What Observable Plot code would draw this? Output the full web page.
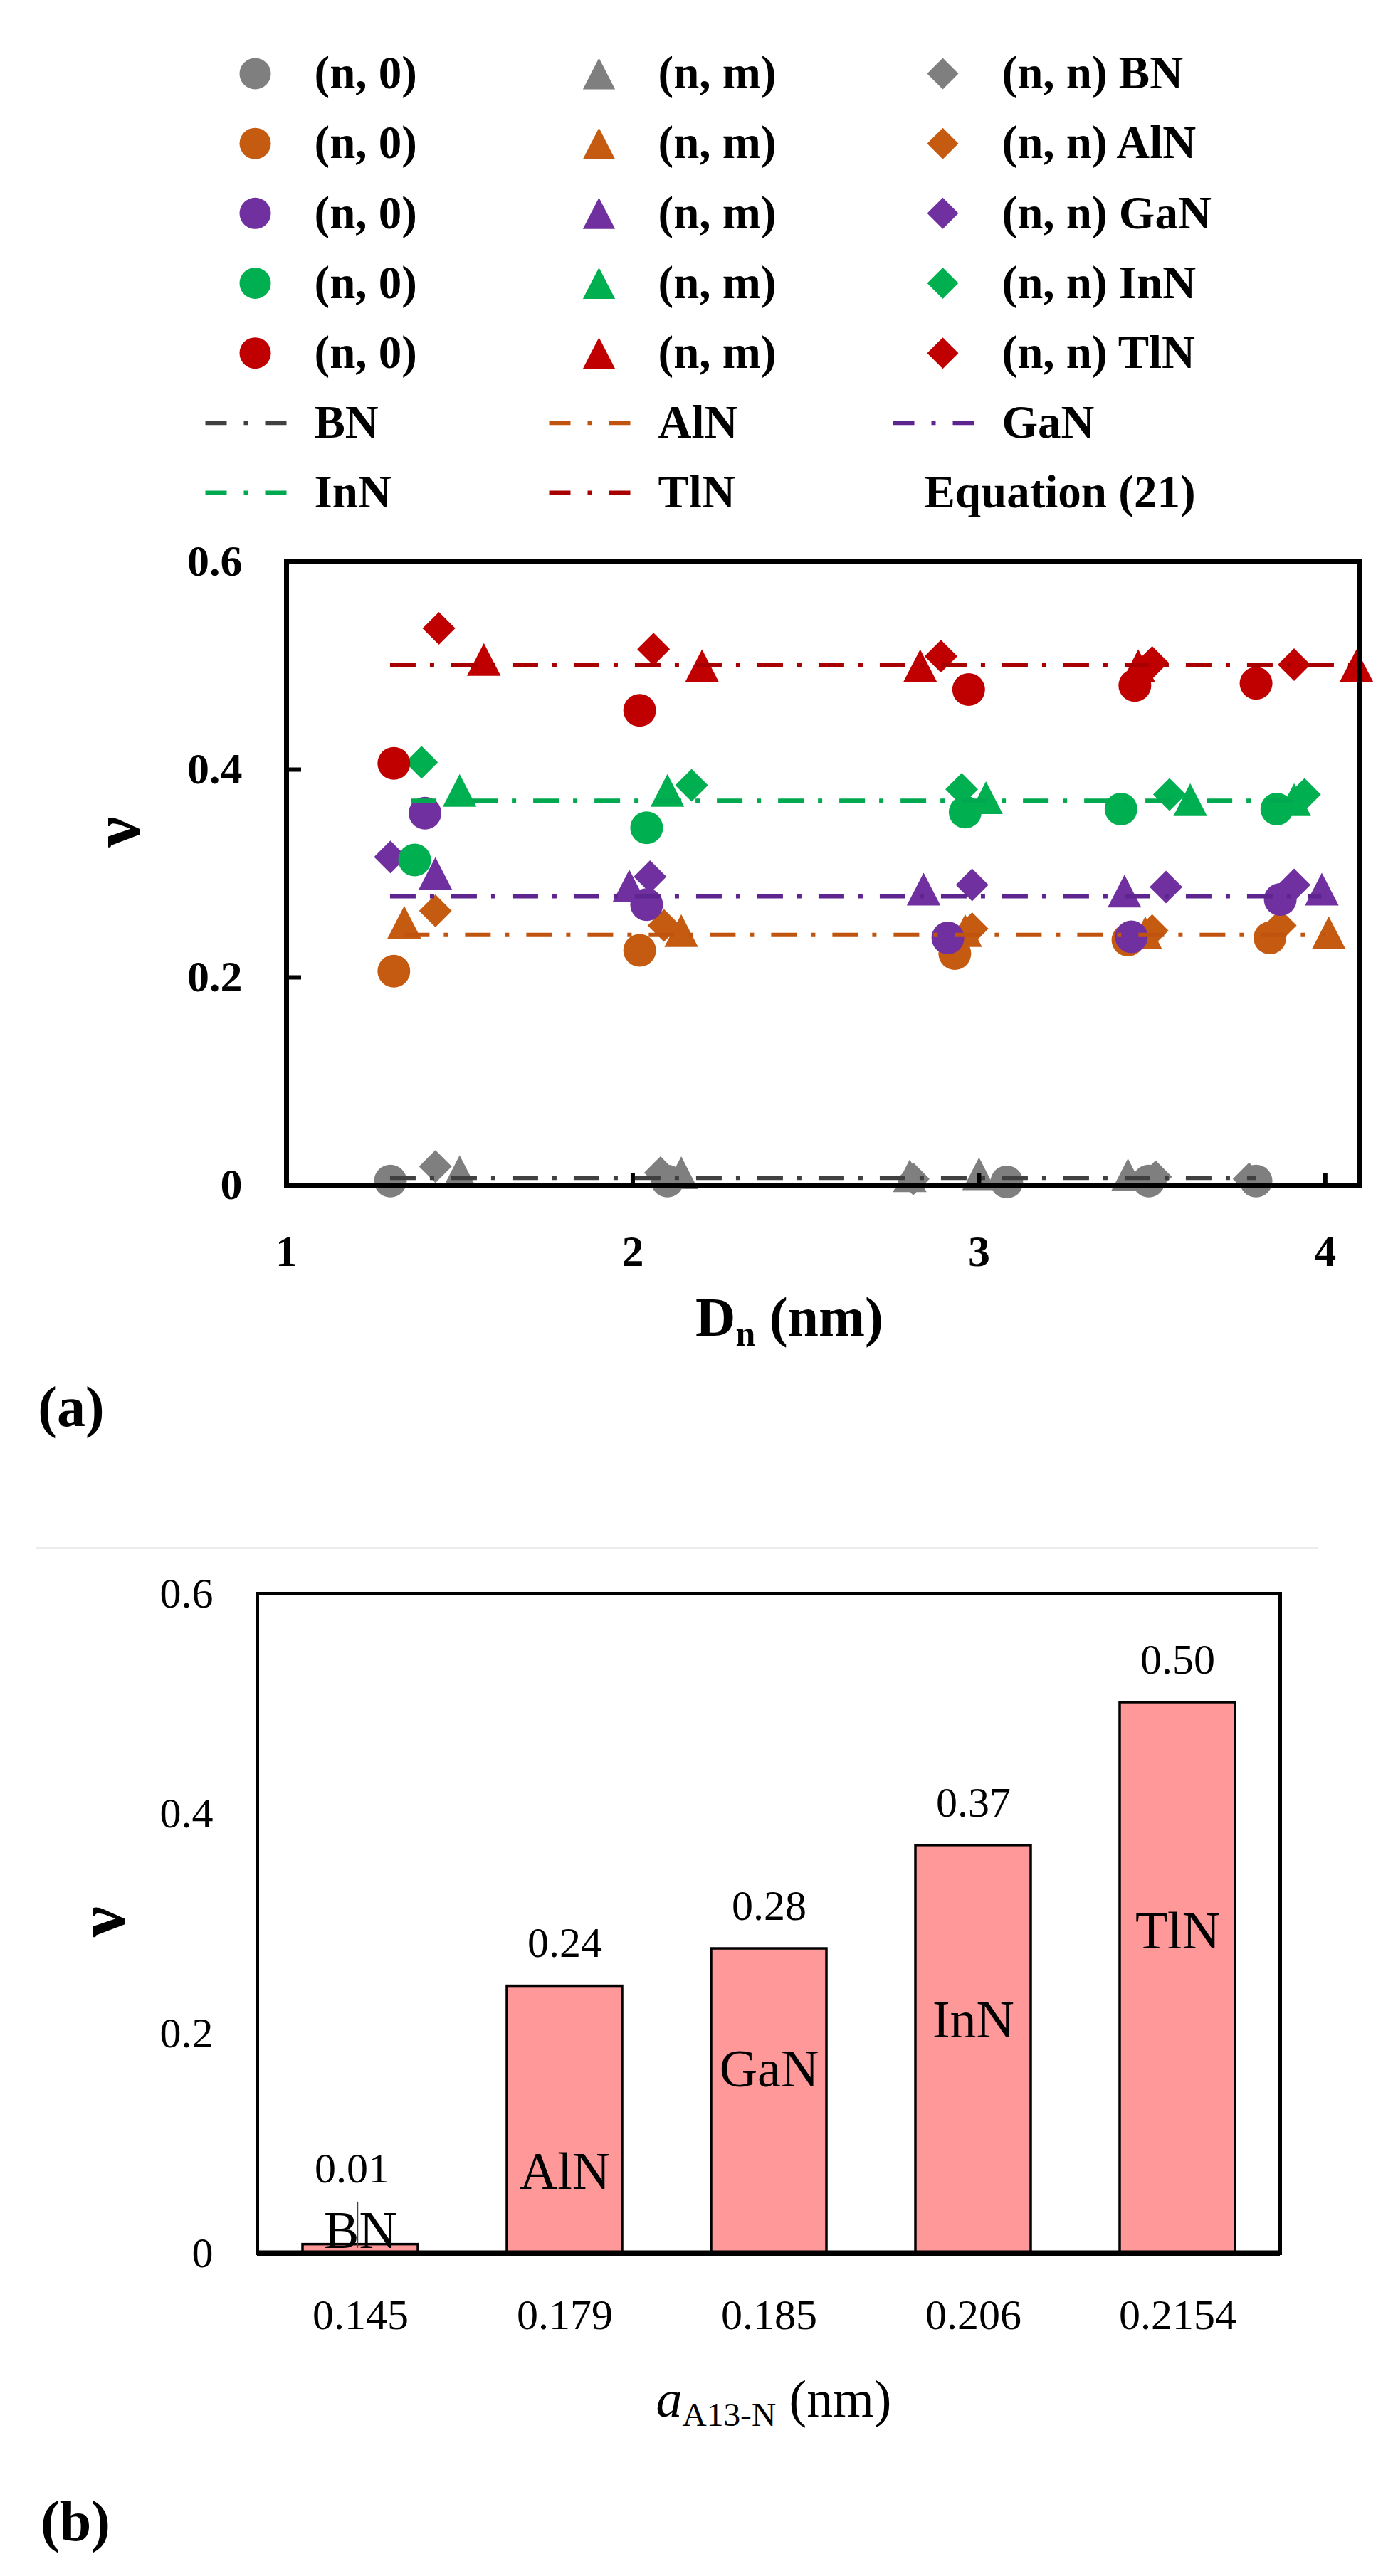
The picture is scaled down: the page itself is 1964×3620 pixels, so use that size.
<!DOCTYPE html>
<html>
<head>
<meta charset="utf-8">
<script src="https://cdn.jsdelivr.net/npm/d3@7"></script>
<script src="https://cdn.jsdelivr.net/npm/@observablehq/plot@0.6"></script>
<style>
  html, body { margin: 0; padding: 0; background: #fff; }
  #page { position: relative; width: 1964px; height: 3620px; overflow: hidden; font-family: "Liberation Serif", serif; color: #000; }
  .panel { position: absolute; left: 0; }
  .lbl { position: absolute; transform: translate(-50%, -50%); white-space: nowrap; line-height: 1; }
  .lbl sub { font-size: 0.64em; vertical-align: -0.28em; line-height: 0; }
  .sep { position: absolute; left: 50px; top: 2174px; width: 1802px; height: 3px; background: #ececec; }
</style>
</head>
<body>
<div id="page">
  <div class="panel" id="legend" style="top:0px"></div>
  <div class="panel" id="chartA" style="top:750px"></div>
  <div class="lbl" style="left:1109px; top:1851px; font-weight:bold; font-size:78px">D<sub>n</sub> (nm)</div>
  <div class="lbl" style="left:100px; top:1977px; font-weight:bold; font-size:80px">(a)</div>
  <div class="sep"></div>
  <div class="panel" id="chartB" style="top:2200px"></div>
  <div class="lbl" style="left:1087px; top:3371px; font-size:74px"><i>a</i><sub>A13-N</sub> (nm)</div>
  <div class="lbl" style="left:106px; top:3543px; font-weight:bold; font-size:80px">(b)</div>
</div>
<script>
// ---------- panel (a): Poisson ratio vs tube diameter ----------
const materials = ["BN", "AlN", "GaN", "InN", "TlN"];
const markerColors = ["#7f7f7f", "#c55a11", "#7030a0", "#00b050", "#c00000"];
const lineColors = ["#404040", "#c0540f", "#5e2591", "#00a84f", "#a80000"];

// (n, 0) tubes, one row per material
const zigzagD = [
  [1.30, 2.10, 3.08, 3.49, 3.80],
  [1.31, 2.02, 2.93, 3.43, 3.84],
  [1.40, 2.04, 2.91, 3.44, 3.87],
  [1.37, 2.04, 2.96, 3.41, 3.86],
  [1.31, 2.02, 2.97, 3.45, 3.80]
];
const zigzagNu = [
  [0.004, 0.004, 0.003, 0.004, 0.004],
  [0.206, 0.226, 0.223, 0.236, 0.238],
  [0.358, 0.270, 0.238, 0.239, 0.275],
  [0.313, 0.344, 0.359, 0.362, 0.362],
  [0.406, 0.457, 0.477, 0.481, 0.483]
];
// (n, m) tubes
const chiralD = [
  [1.50, 2.14, 2.80, 3.00, 3.43],
  [1.34, 2.14, 2.96, 3.48, 4.01],
  [1.43, 1.99, 2.84, 3.42, 3.99],
  [1.50, 2.10, 3.02, 3.61, 3.91],
  [1.57, 2.20, 2.83, 3.46, 4.09]
];
const chiralNu = [
  [0.013, 0.012, 0.009, 0.011, 0.010],
  [0.253, 0.245, 0.245, 0.243, 0.243],
  [0.300, 0.288, 0.285, 0.283, 0.285],
  [0.380, 0.380, 0.373, 0.371, 0.371],
  [0.506, 0.500, 0.500, 0.500, 0.500]
];
// (n, n) tubes
const armchairD = [
  [1.43, 2.08, 2.81, 3.51, 3.78],
  [1.43, 2.09, 2.98, 3.50, 3.87],
  [1.30, 2.05, 2.98, 3.54, 3.91],
  [1.39, 2.17, 2.95, 3.55, 3.94],
  [1.44, 2.06, 2.89, 3.50, 3.91]
];
const armchairNu = [
  [0.018, 0.012, 0.006, 0.008, 0.006],
  [0.264, 0.250, 0.247, 0.245, 0.250],
  [0.316, 0.297, 0.289, 0.287, 0.289],
  [0.407, 0.385, 0.381, 0.376, 0.376],
  [0.536, 0.516, 0.509, 0.503, 0.501]
];
// Equation (21) levels and the D range each line covers
const nuEq21 = [0.007, 0.241, 0.278, 0.370, 0.501];
const eqStart = [1.30, 1.34, 1.30, 1.36, 1.30];
const eqEnd = [3.80, 4.00, 3.99, 3.94, 4.08];

const xTicksA = [1, 2, 3, 4];
const yTicks = [0, 0.2, 0.4, 0.6];

// ---------- panel (b): Poisson ratio vs bond length ----------
const bondLength = ["0.145", "0.179", "0.185", "0.206", "0.2154"];
const nuBar = [0.008, 0.243, 0.277, 0.371, 0.501];
const nameLabelNu = [0.020, 0.074, 0.167, 0.212, 0.293];
const leaderNu = [0.047, 0.005];

const serif = "'Liberation Serif', 'DejaVu Serif', serif";
const plainNum = d => `${d}`;

// marker shapes (size -> radius of equal-area circle, used as half extent)
const triangle = {
  draw(ctx, size) {
    const r = Math.sqrt(size / Math.PI);
    ctx.moveTo(0, -r); ctx.lineTo(r * 1.03, r); ctx.lineTo(-r * 1.03, r); ctx.closePath();
  }
};
const diamond = {
  draw(ctx, size) {
    const r = Math.sqrt(size / Math.PI);
    ctx.moveTo(0, -r); ctx.lineTo(r, 0); ctx.lineTo(0, r); ctx.lineTo(-r, 0); ctx.closePath();
  }
};
const dashDot = {
  draw(ctx) {
    ctx.rect(-57, -3, 30, 6); ctx.rect(-3, -3, 6, 6); ctx.rect(27, -3, 30, 6);
  }
};

const shapes = [
  {name: "(n, 0)", symbol: "circle", D: zigzagD, nu: zigzagNu},
  {name: "(n, m)", symbol: triangle, D: chiralD, nu: chiralNu},
  {name: "(n, n)", symbol: diamond, D: armchairD, nu: armchairNu}
];

// ---- legend ----
let legendRows = [];
materials.forEach((m, i) => {
  shapes.forEach((s, k) => legendRows.push({
    row: i, col: k, shape: k, color: markerColors[i],
    label: k === 2 ? `${s.name} ${m}` : s.name
  }));
});
let lineLegend = materials.map((m, i) => ({row: 5 + Math.floor(i / 3), col: i % 3, color: lineColors[i], label: m}));

let legend = Plot.plot({
  width: 1964, height: 740,
  margin: 0,
  x: {domain: [0, 2], range: [358, 1324], axis: null},
  y: {domain: [0, 6], range: [103, 692], axis: null},
  color: {type: "identity"},
  style: {fontFamily: serif, fontSize: "65px", fontWeight: "bold", background: "transparent"},
  marks: [
    ...shapes.map((s, k) => Plot.dot(legendRows.filter(d => d.shape === k),
      {x: "col", y: "row", r: 22, symbol: s.symbol, fill: "color", stroke: "none"})),
    Plot.text(legendRows, {x: "col", y: "row", text: "label", dx: 83, textAnchor: "start"}),
    Plot.dot(lineLegend, {x: "col", y: "row", symbol: dashDot, fill: "color", stroke: "none", dx: -13}),
    Plot.text(lineLegend, {x: "col", y: "row", text: "label", dx: 83, textAnchor: "start"}),
    Plot.text(["Equation (21)"], {x: 2, y: 6, text: d => d, dx: -26, textAnchor: "start"})
  ]
});
d3.select("#legend").append(() => legend);

// ---- chart (a) ----
let pointMarks = [];
materials.forEach((m, i) => {
  shapes.forEach(s => {
    const rows = s.D[i].map((d, j) => ({D: d, nu: s.nu[i][j]}));
    pointMarks.push(Plot.dot(rows, {x: "D", y: "nu", r: 23, symbol: s.symbol, fill: markerColors[i], stroke: "none"}));
  });
});
let eqRows = materials.map((m, i) => ({m, nu: nuEq21[i], x1: eqStart[i], x2: eqEnd[i], color: lineColors[i]}));

let chartA = Plot.plot({
  width: 1964, height: 1130,
  marginLeft: 402, marginRight: 54, marginTop: 39, marginBottom: 215,
  x: {domain: [1, 4.1], label: null},
  y: {domain: [0, 0.6], label: null},
  color: {type: "identity"},
  style: {fontFamily: serif, fontSize: "62px", fontWeight: "bold", background: "transparent"},
  marks: [
    ...pointMarks,
    Plot.ruleY(eqRows, {y: "nu", x1: "x1", x2: "x2", stroke: "color", strokeWidth: 6, strokeDasharray: "36,20,6,24"}),
    Plot.tickX([2, 3, 4], {x: d => d, insetTop: 876 - 17, strokeWidth: 6}),
    Plot.tickY([0.2, 0.4], {y: d => d, insetRight: 1508 - 21, strokeWidth: 6}),
    Plot.frame({stroke: "#000", strokeWidth: 7}),
    Plot.axisX(xTicksA, {tickSize: 0, tickPadding: 69, tickFormat: plainNum, label: null}),
    Plot.axisY(yTicks, {tickSize: 0, tickPadding: 62, tickFormat: plainNum, label: null}),
    Plot.text(["ν"], {text: d => d, frameAnchor: "left", dx: -237, dy: -37, rotate: -90, fontSize: 96})
  ]
});
d3.select("#chartA").append(() => chartA);

// ---- chart (b) ----
let bars = bondLength.map((a, i) => ({a, nu: nuBar[i], name: materials[i], nameNu: nameLabelNu[i]}));
let bnBar = bars.filter(d => d.name === "BN");
let otherBars = bars.filter(d => d.name !== "BN");

let chartB = Plot.plot({
  width: 1964, height: 1120,
  marginLeft: 361, marginRight: 166, marginTop: 39, marginBottom: 154,
  x: {domain: bondLength, paddingInner: 0.436, paddingOuter: 0.218, label: null},
  y: {domain: [0, 0.6], label: null},
  style: {fontFamily: serif, fontSize: "60px", background: "transparent"},
  marks: [
    Plot.barY(bars, {x: "a", y: "nu", fill: "#ff9999", stroke: "#000", strokeWidth: 3.5}),
    Plot.text(otherBars, {x: "a", y: "nu", text: d => d.nu.toFixed(2), dy: -60}),
    Plot.text(bnBar, {x: "a", y: "nu", text: d => d.nu.toFixed(2), dy: -106, dx: -12}),
    Plot.link(bnBar, {x1: "a", x2: "a", y1: leaderNu[0], y2: leaderNu[1], stroke: "#444", strokeWidth: 1.5, dx: -4}),
    Plot.text(bars, {x: "a", y: "nameNu", text: "name", fontSize: 74}),
    Plot.frame({stroke: "#000", strokeWidth: 5}),
    Plot.ruleY([0], {strokeWidth: 8}),
    Plot.axisX({tickSize: 0, tickPadding: 64, label: null}),
    Plot.axisY(yTicks, {tickSize: 0, tickPadding: 62, tickFormat: plainNum, label: null}),
    Plot.text(["ν"], {text: d => d, frameAnchor: "left", dx: -217, dy: 19, rotate: -90, fontSize: 96, fontWeight: "bold"})
  ]
});
d3.select("#chartB").append(() => chartB);
</script>
</body>
</html>
